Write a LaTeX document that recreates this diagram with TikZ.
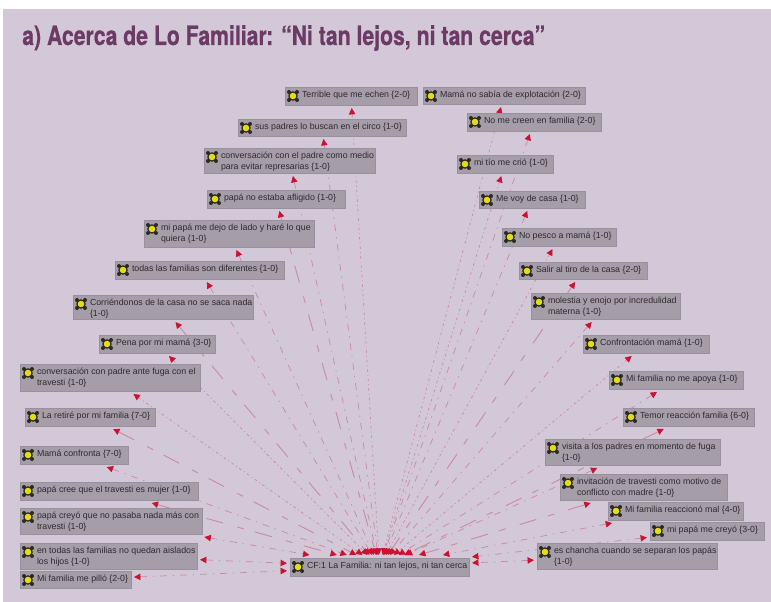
\documentclass[tikz,border=0pt]{standalone}
\usepackage{fontspec}
\setmainfont{Liberation Sans}
\newfontfamily\titlefont[FakeBold=0.6]{TeX Gyre Heros}
\usetikzlibrary{arrows.meta}
\definecolor{panelc}{HTML}{D3C8D7}
\definecolor{boxc}{HTML}{A59EA8}
\definecolor{boxe}{HTML}{98909C}
\definecolor{titlec}{HTML}{6B3A65}
\definecolor{headc}{HTML}{CC1133}
\definecolor{linkc}{HTML}{CB8AA2}
\definecolor{textc}{HTML}{2E2A30}
\definecolor{iconc}{HTML}{2A2A20}
\definecolor{icony}{HTML}{E6DC14}
\pgfdeclarelayer{paneL}
\pgfdeclarelayer{lineS}
\pgfsetlayers{paneL,lineS,main}
\tikzset{
  famtext/.style={anchor=north west,inner sep=0pt,outer sep=0pt,align=left,text=textc,
    font=\fontsize{6.6pt}{8.4pt}\selectfont},
  fambox/.style={rectangle,fill=boxc,draw=boxe,line width=0.6pt,inner sep=0pt,outer sep=2.25pt},
  link/.style={draw=linkc,line width=0.55pt,
    {Triangle[length=4.8pt,width=4.8pt,color=headc]}-{Triangle[length=4.8pt,width=4.8pt,color=headc]}},
  fine/.style={link,dash pattern=on 2pt off 2.2pt on 0.7pt off 2.2pt},
  mid/.style={link,dash pattern=on 5pt off 4.5pt on 1pt off 4.5pt},
  long/.style={link,line width=0.7pt,dash pattern=on 13pt off 11pt on 5pt off 9pt},
}
\newcommand{\famnode}[6]{%
  \pgfmathsetmacro{\cxv}{(#2+#4)/2}%
  \pgfmathsetmacro{\cyv}{(#3+#5)/2}%
  \pgfmathsetmacro{\wv}{(#4-#2)*0.75}%
  \pgfmathsetmacro{\hv}{(#5-#3)*0.75}%
  \node[fambox,minimum width=\wv pt,minimum height=\hv pt] (#1) at (\cxv,\cyv) {};
  \node[famtext] (#1-t) at (#2+17,#3+4) {#6};
  \fill[iconc] (#2+8,#3+9) circle (4.8);
  \fill[iconc] (#2+4,#3+5) circle (2) (#2+12,#3+5) circle (2) (#2+4,#3+13) circle (2) (#2+12,#3+13) circle (2);
  \fill[icony] (#2+8,#3+9) circle (3.3);
}
\begin{document}
\begin{tikzpicture}[x=0.75pt,y=-0.75pt]
\begin{pgfonlayer}{paneL}
  \fill[white] (0,0) rectangle (771,602);
  \fill[panelc] (3,9) rectangle (771,602);
\end{pgfonlayer}
\path[use as bounding box] (0,0) rectangle (771,602);
\node[anchor=base west,inner sep=0pt,text=titlec] (title) at (22,45)
  {\scalebox{0.795}[1]{\titlefont\bfseries\fontsize{20pt}{22pt}\selectfont a) Acerca de Lo Familiar: “Ni tan lejos, ni tan cerca”}};
\famnode{cf}{290}{558}{469}{576}{CF:1 La Familia: ni tan lejos, ni tan cerca}
\famnode{a1}{285}{87}{417}{105}{Terrible que me echen \{2-0\}}
\famnode{a2}{238}{119}{406}{136}{sus padres lo buscan en el circo \{1-0\}}
\famnode{a3}{204}{148}{375}{173}{conversación con el padre como medio\\para evitar represarias \{1-0\}}
\famnode{a4}{207}{190}{345}{208}{papá no estaba afligido \{1-0\}}
\famnode{a5}{144}{220}{314}{247}{mi papá me dejo de lado y haré lo que\\quiera \{1-0\}}
\famnode{a6}{115}{261}{284}{279}{todas las familias son diferentes \{1-0\}}
\famnode{a7}{73}{295}{253}{319}{Corriéndonos de la casa no se saca nada\\\{1-0\}}
\famnode{a8}{99}{335}{215}{353}{Pena por mi mamá \{3-0\}}
\famnode{a9}{20}{364}{200}{391}{conversación con padre ante fuga con el\\travesti \{1-0\}}
\famnode{a10}{25}{408}{155}{426}{La retiré por mi familia \{7-0\}}
\famnode{a11}{20}{446}{128}{464}{Mamá confronta \{7-0\}}
\famnode{a12}{20}{482}{198}{500}{papá cree que el travesti es mujer \{1-0\}}
\famnode{a13}{20}{508}{202}{534}{papá creyó que no pasaba nada más con\\travesti \{1-0\}}
\famnode{a14}{20}{543}{197}{569}{en todas las familias no quedan aislados\\los hijos \{1-0\}}
\famnode{a15}{20}{571}{131}{588}{Mi familia me pilló \{2-0\}}
\famnode{b1}{423}{87}{585}{104}{Mamá no sabía de explotación \{2-0\}}
\famnode{b2}{467}{113}{601}{131}{No me creen en familia \{2-0\}}
\famnode{b3}{457}{155}{553}{173}{mi tío me crió \{1-0\}}
\famnode{b4}{479}{191}{585}{208}{Me voy de casa \{1-0\}}
\famnode{b5}{502}{228}{616}{246}{No pesco a mamá \{1-0\}}
\famnode{b6}{519}{262}{647}{279}{Salir al tiro de la casa \{2-0\}}
\famnode{b7}{531}{293}{680}{319}{molestia y enojo por incredulidad\\materna \{1-0\}}
\famnode{b8}{583}{335}{709}{353}{Confrontación mamá \{1-0\}}
\famnode{b9}{609}{371}{743}{389}{Mi familia no me apoya \{1-0\}}
\famnode{b10}{623}{408}{754}{426}{Temor reacción familia \{6-0\}}
\famnode{b11}{545}{439}{720}{465}{visita a los padres en momento de fuga\\\{1-0\}}
\famnode{b12}{560}{474}{727}{500}{invitación de travesti como motivo de\\conflicto con madre \{1-0\}}
\famnode{b13}{608}{502}{743}{520}{Mi familia reaccionó mal \{4-0\}}
\famnode{b14}{650}{522}{764}{540}{mi papá me creyó \{3-0\}}
\famnode{b15}{537}{543}{717}{569}{es chancha cuando se separan los papás\\\{1-0\}}
\begin{pgfonlayer}{lineS}
\foreach \n/\s in {a1/fine,a2/mid,a3/mid,a4/long,a5/mid,a6/mid,a7/long,a8/fine,a9/fine,a10/long,a11/mid,a12/long,a13/mid,a14/mid,a15/mid,
  b1/fine,b2/mid,b3/fine,b4/mid,b5/fine,b6/long,b7/mid,b8/fine,b9/mid,b10/long,b11/mid,b12/long,b13/mid,b14/mid,b15/mid}
  \draw[\s] (\n) -- (cf);
\end{pgfonlayer}
\end{tikzpicture}
\end{document}
